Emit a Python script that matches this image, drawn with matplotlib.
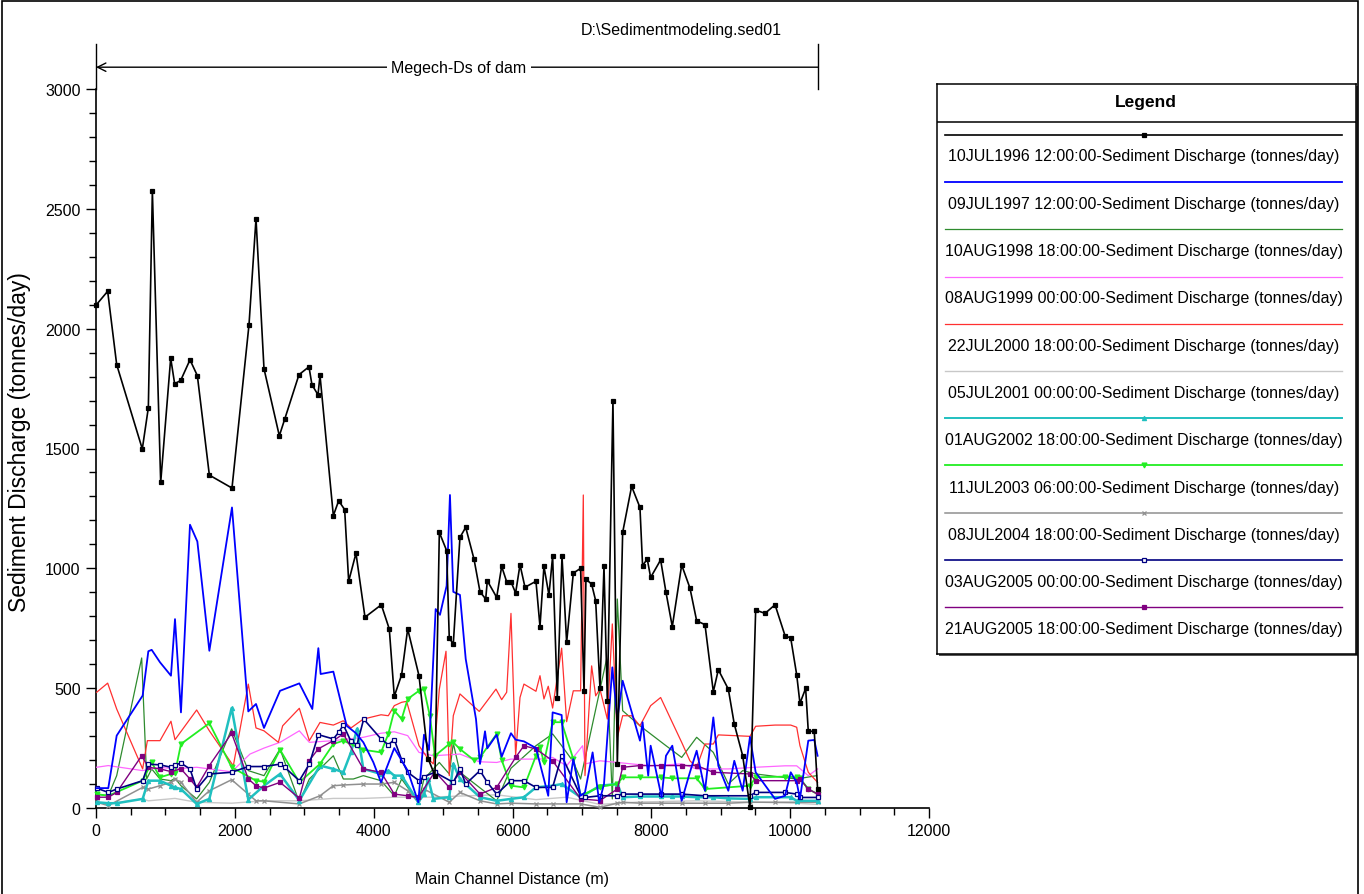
import matplotlib
matplotlib.use('Agg')
import matplotlib.pyplot as plt
from matplotlib.patches import Rectangle
from matplotlib.ticker import MultipleLocator

plt.rcParams['font.family'] = ['Liberation Sans', 'DejaVu Sans']

# sediment discharge (tonnes/day) along the main channel (m)
x_1996 = [0, 168, 298, 667, 754, 812, 932, 1076, 1133, 1220, 1354, 1460, 1633, 1959, 2204, 2305,
          2420, 2641, 2718, 2924, 3068, 3111, 3198, 3227, 3419, 3496, 3582, 3640, 3745, 3875, 4110,
          4225, 4297, 4403, 4490, 4653, 4787, 4883, 4946, 5051, 5089, 5147, 5243, 5326, 5445, 5532,
          5614, 5637, 5772, 5844, 5916, 5978, 6045, 6108, 6180, 6338, 6396, 6453, 6525, 6578, 6645,
          6713, 6780, 6876, 6981, 7030, 7058, 7140, 7198, 7260, 7318, 7366, 7447, 7510, 7587, 7716,
          7836, 7874, 7941, 7990, 8134, 8211, 8302, 8437, 8556, 8653, 8773, 8893, 8965, 9109, 9195,
          9316, 9421, 9503, 9638, 9782, 9926, 10008, 10094, 10141, 10223, 10261, 10347, 10395]
q_1996 = [2098, 2156, 1850, 1498, 1670, 2574, 1359, 1877, 1770, 1784, 1870, 1804, 1389, 1335, 2016,
          2459, 1833, 1553, 1622, 1808, 1841, 1766, 1724, 1805, 1220, 1282, 1245, 946, 1063, 796,
          848, 747, 466, 556, 747, 552, 204, 135, 1150, 1074, 709, 684, 1129, 1171, 1039, 902, 872,
          948, 879, 1008, 944, 944, 897, 1015, 921, 946, 757, 1008, 889, 1050, 459, 1050, 691, 980,
          1000, 489, 955, 934, 865, 500, 1008, 448, 1698, 183, 1150, 1342, 1254, 1011, 1039, 962,
          1035, 900, 757, 1014, 918, 781, 765, 485, 577, 496, 350, 218, 3, 826, 812, 848, 719, 709,
          556, 437, 499, 320, 320, 79]

x_1997 = [10, 177, 298, 672, 754, 802, 922, 1080, 1138, 1224, 1354, 1460, 1633, 1959, 2194, 2305,
          2420, 2651, 2929, 3116, 3203, 3236, 3419, 3611, 3741, 3851, 3995, 4106, 4297, 4490, 4643,
          4725, 4797, 4893, 4955, 5051, 5099, 5147, 5243, 5326, 5474, 5532, 5604, 5637, 5772, 5844,
          5978, 6045, 6165, 6338, 6515, 6578, 6708, 6780, 6876, 6981, 7044, 7154, 7250, 7318, 7438,
          7510, 7587, 7836, 7874, 7955, 7990, 8148, 8211, 8302, 8437, 8556, 8653, 8773, 8893, 8965,
          9109, 9195, 9316, 9421, 9503, 9782, 9926, 10008, 10094, 10141, 10261, 10347, 10395]
q_1997 = [83, 83, 302, 469, 654, 660, 608, 552, 788, 399, 1182, 1112, 656, 1254, 403, 434, 334, 489,
          520, 413, 667, 559, 569, 343, 313, 274, 191, 107, 250, 156, 24, 306, 242, 830, 806, 927,
          1306, 902, 889, 622, 371, 184, 320, 249, 306, 214, 312, 285, 278, 250, 51, 399, 388, 24,
          204, 51, 65, 232, 24, 100, 587, 371, 531, 281, 358, 135, 260, 45, 218, 260, 30, 149, 239,
          72, 378, 176, 72, 197, 72, 297, 149, 38, 51, 149, 107, 38, 281, 284, 218]

x_1998 = [10, 177, 298, 658, 730, 802, 922, 1080, 1138, 1224, 1450, 1633, 1954, 2194, 2420, 2651,
          2929, 3073, 3419, 3563, 3707, 3851, 4106, 4297, 4403, 4643, 4725, 4946, 5089, 5147, 5243,
          5772, 5978, 6338, 6578, 6708, 6876, 6981, 7356, 7438, 7510, 7587, 7836, 8211, 8437, 8653,
          8893, 9109, 9316, 9503, 10094, 10381]
q_1998 = [58, 51, 135, 626, 121, 163, 121, 114, 124, 93, 38, 107, 330, 156, 135, 246, 24, 121, 218,
          121, 121, 135, 114, 51, 121, 24, 121, 190, 142, 270, 149, 30, 166, 260, 309, 260, 193, 121,
          622, 38, 872, 406, 343, 260, 211, 295, 232, 100, 156, 142, 121, 135]

x_1999 = [10, 177, 672, 922, 1138, 1450, 1954, 2218, 2420, 2651, 2929, 3073, 3419, 3851, 4106, 4297,
          4490, 4653, 4859, 5243, 5521, 5772, 5978, 6396, 6578, 6780, 7010, 7044, 7260, 7510, 7990,
          8437, 8653, 9109, 9503, 9926, 10094, 10261, 10395]
q_1999 = [170, 177, 156, 170, 163, 170, 151, 225, 250, 274, 322, 274, 281, 295, 312, 318, 302, 232,
          218, 225, 193, 190, 204, 204, 211, 176, 260, 184, 197, 190, 176, 184, 163, 163, 170, 176,
          176, 135, 163]

x_2000 = [10, 168, 298, 672, 740, 922, 1080, 1138, 1450, 1633, 1978, 2194, 2305, 2420, 2627, 2689,
          2929, 3073, 3227, 3419, 3563, 3673, 3851, 4106, 4211, 4297, 4403, 4475, 4653, 4787, 4859,
          4946, 5042, 5089, 5147, 5243, 5521, 5762, 5844, 5916, 5978, 6045, 6108, 6165, 6338, 6396,
          6453, 6515, 6578, 6708, 6780, 6876, 6981, 7020, 7044, 7140, 7198, 7260, 7366, 7438, 7510,
          7587, 7716, 7836, 7990, 8134, 8302, 8437, 8556, 8653, 8773, 8893, 8965, 9421, 9503, 9782,
          10008, 10094, 10141, 10261, 10395]
q_2000 = [483, 521, 413, 163, 281, 281, 362, 285, 409, 322, 176, 517, 334, 322, 274, 343, 416, 281,
          357, 346, 364, 334, 371, 389, 385, 427, 441, 445, 260, 204, 184, 496, 654, 135, 385, 476,
          403, 496, 452, 483, 812, 218, 461, 517, 487, 552, 455, 508, 417, 667, 360, 489, 489, 1306,
          135, 593, 468, 496, 371, 768, 295, 385, 385, 343, 427, 461, 357, 274, 197, 170, 267, 267,
          305, 299, 341, 346, 346, 337, 260, 149, 107]

x_2001 = [10, 177, 672, 754, 1138, 1450, 1954, 2420, 2929, 3419, 3851, 4297, 4811, 5243, 5772, 6338,
          6780, 7260, 7836, 8653, 9421, 10094, 10395]
q_2001 = [24, 17, 38, 30, 40, 24, 20, 30, 30, 40, 40, 45, 45, 50, 55, 35, 45, 15, 25, 30, 25, 20, 15]

x_2002 = [10, 177, 298, 672, 754, 922, 1080, 1138, 1224, 1450, 1633, 1954, 2194, 2420, 2651, 2929,
          3227, 3419, 3563, 3673, 3760, 3851, 4106, 4211, 4297, 4403, 4643, 4725, 4787, 4859, 5089,
          5147, 5243, 5532, 5772, 5978, 6165, 6338, 6578, 6708, 6981, 7260, 7510, 7587, 7836, 8134,
          8302, 8437, 8653, 8893, 9109, 9421, 9503, 10008, 10094, 10395]
q_2002 = [24, 20, 20, 38, 114, 114, 93, 86, 79, 17, 38, 417, 35, 93, 142, 31, 177, 163, 149, 232,
          330, 163, 142, 156, 135, 135, 24, 58, 121, 38, 45, 184, 121, 45, 30, 38, 45, 86, 93, 100,
          45, 93, 100, 45, 48, 48, 48, 48, 45, 45, 40, 38, 45, 45, 30, 30]

x_2003 = [10, 177, 672, 802, 922, 1080, 1138, 1224, 1633, 1954, 2305, 2420, 2651, 2929, 3227, 3419,
          3563, 3851, 4106, 4211, 4297, 4403, 4490, 4653, 4725, 4811, 4883, 5089, 5147, 5243, 5445,
          5532, 5772, 5844, 5978, 6165, 6338, 6396, 6453, 6578, 6708, 6876, 6981, 7260, 7510, 7587,
          7836, 8134, 8302, 8653, 8773, 9421, 9503, 9926, 10094, 10141, 10261, 10395]
q_2003 = [58, 51, 114, 190, 128, 142, 145, 267, 354, 170, 114, 110, 243, 107, 184, 267, 281, 243,
          232, 309, 406, 371, 455, 489, 496, 382, 218, 267, 274, 246, 200, 211, 309, 200, 93, 86, 218,
          253, 190, 358, 358, 204, 51, 89, 100, 128, 128, 128, 124, 124, 79, 93, 128, 131, 128, 124,
          79, 58]

x_2004 = [10, 177, 672, 754, 922, 1080, 1138, 1224, 1450, 1633, 1954, 2194, 2305, 2420, 2929, 3227,
          3419, 3563, 3851, 4106, 4297, 4490, 4643, 4725, 5089, 5243, 5532, 5772, 5978, 6338, 6578,
          6981, 7260, 7510, 7587, 7836, 8134, 8437, 8773, 9109, 9421, 9782, 10094, 10395]
q_2004 = [24, 10, 86, 79, 93, 107, 121, 107, 24, 72, 118, 58, 30, 30, 17, 51, 93, 96, 100, 100, 107,
          72, 24, 79, 24, 65, 30, 17, 20, 17, 17, 17, 3, 20, 24, 20, 20, 20, 20, 20, 24, 24, 24, 24]

x_2005a = [10, 177, 298, 672, 754, 922, 1080, 1138, 1224, 1354, 1450, 1633, 1954, 2194, 2420, 2651,
           2718, 2929, 3073, 3203, 3419, 3505, 3563, 3673, 3760, 3856, 4106, 4211, 4297, 4403, 4490,
           4653, 4725, 4883, 5147, 5243, 5326, 5532, 5637, 5772, 5978, 6165, 6338, 6578, 6708, 6981,
           7044, 7260, 7510, 7587, 7836, 8134, 8437, 8773, 9421, 9503, 9926, 10094, 10141, 10395]
q_2005a = [83, 65, 79, 114, 183, 180, 170, 180, 187, 163, 79, 142, 149, 173, 173, 183, 170, 114, 183,
           306, 288, 319, 347, 278, 264, 371, 288, 264, 285, 201, 149, 114, 131, 149, 107, 163, 100,
           156, 107, 58, 114, 114, 86, 86, 218, 51, 44, 51, 51, 58, 58, 58, 58, 51, 51, 65, 65, 58,
           44, 44]

x_2005b = [10, 177, 298, 658, 754, 922, 1080, 1224, 1354, 1450, 1633, 1954, 2194, 2305, 2420, 2651,
           2929, 3073, 3203, 3419, 3563, 3851, 4106, 4297, 4490, 4643, 4883, 5089, 5243, 5532, 5772,
           6045, 6165, 6338, 6578, 6981, 7260, 7510, 7587, 7836, 8134, 8437, 8653, 8893, 9421, 9503,
           10094, 10141, 10261, 10395]
q_2005b = [45, 45, 65, 218, 170, 163, 152, 163, 121, 86, 177, 312, 121, 93, 83, 107, 41, 198, 247,
           281, 309, 163, 149, 58, 51, 44, 152, 86, 149, 58, 86, 211, 260, 246, 197, 38, 31, 79, 170,
           177, 177, 177, 177, 149, 142, 114, 114, 121, 79, 58]

tail = '-Sediment Discharge (tonnes/day)'
labels = ['10JUL1996 12:00:00', '09JUL1997 12:00:00', '10AUG1998 18:00:00', '08AUG1999 00:00:00',
          '22JUL2000 18:00:00', '05JUL2001 00:00:00', '01AUG2002 18:00:00', '11JUL2003 06:00:00',
          '08JUL2004 18:00:00', '03AUG2005 00:00:00', '21AUG2005 18:00:00']

# (x, q, color, linewidth, marker, markersize, marker face, zorder)
styles = [
    (x_1996, q_1996, 'black', 1.2, 's', 2.2, 'black', 20),
    (x_1997, q_1997, '#0000ff', 1.3, None, 0, None, 18),
    (x_1998, q_1998, '#2e8b2e', 0.9, None, 0, None, 5),
    (x_1999, q_1999, '#ff66ff', 0.9, None, 0, None, 5),
    (x_2000, q_2000, '#ff3030', 0.9, None, 0, None, 6),
    (x_2001, q_2001, '#c8c8c8', 1.0, None, 0, None, 4),
    (x_2002, q_2002, '#20c0c0', 1.8, '^', 3.0, '#20c0c0', 8),
    (x_2003, q_2003, '#22ee22', 1.3, 'v', 3.5, '#22ee22', 9),
    (x_2004, q_2004, '#909090', 1.1, 'x', 3.0, '#909090', 7),
    (x_2005a, q_2005a, '#000080', 1.2, 's', 3.2, 'white', 10),
    (x_2005b, q_2005b, '#800080', 1.0, 's', 2.2, '#800080', 9),
]

fig = plt.figure(figsize=(13.64, 8.95), dpi=100)
W, H = 1364.0, 895.0

ax = fig.add_axes([96 / W, 1 - 809 / H, 833 / W, 719 / H])
for x, q, c, lw, mk, ms, mfc, z in styles:
    ax.plot(x, q, color=c, lw=lw, marker=mk, ms=ms, mfc=mfc, mec=c, mew=0.9,
            zorder=z, clip_on=False)

ax.set_xlim(0, 12000)
ax.set_ylim(0, 3000)
for s in ['top', 'right']:
    ax.spines[s].set_visible(False)
for s in ['left', 'bottom']:
    ax.spines[s].set_linewidth(1.2)
ax.xaxis.set_major_locator(MultipleLocator(2000))
ax.xaxis.set_minor_locator(MultipleLocator(500))
ax.yaxis.set_major_locator(MultipleLocator(500))
ax.yaxis.set_minor_locator(MultipleLocator(100))
ax.tick_params(which='major', direction='out', length=7, width=1, labelsize=11.5, pad=4)
ax.tick_params(which='minor', direction='out', length=5, width=1)

# reach marker above the plot
ax.plot([0, 0], [3000, 3187], color='black', lw=1, clip_on=False)
ax.plot([10400, 10400], [3000, 3187], color='black', lw=1, clip_on=False)
ax.annotate('', xy=(0, 3091), xytext=(10400, 3091), annotation_clip=False,
            arrowprops=dict(arrowstyle='->,head_length=0.6,head_width=0.3', lw=1, color='black',
                            shrinkA=0, shrinkB=0))
ax.text(5230, 3091, 'Megech-Ds of dam', ha='center', va='center', fontsize=11.5, clip_on=False,
        bbox=dict(facecolor='white', edgecolor='none', pad=3))

fig.text(681 / W, 1 - 30 / H, 'D:\\Sedimentmodeling.sed01', ha='center', va='center', fontsize=11.5)
fig.text(512 / W, 1 - 880 / H, 'Main Channel Distance (m)', ha='center', va='center', fontsize=11.5)
fig.text(20 / W, 1 - 442 / H, 'Sediment Discharge (tonnes/day)', ha='center', va='center',
         rotation=90, fontsize=16.5)

# outer frame
fig.patches.append(Rectangle((2 / W, -0.01), 1356 / W, 1 - 2 / H + 0.01, transform=fig.transFigure,
                             fill=False, edgecolor='black', lw=1.2))

# legend panel with a thin drop shadow
fig.patches.append(Rectangle((939 / W, 1 - 657 / H), 419 / W, 570 / H, transform=fig.transFigure,
                             facecolor='#555555', edgecolor='none', zorder=0))
lax = fig.add_axes([937 / W, 1 - 655 / H, 419 / W, 570 / H])
lax.set_zorder(3)
lax.set_xlim(0, 419)
lax.set_ylim(570, 0)
lax.set_xticks([])
lax.set_yticks([])
for s in lax.spines.values():
    s.set_linewidth(1.1)
lax.axhline(38, color='black', lw=1.1)
lax.text(209, 18, 'Legend', ha='center', va='center', fontsize=12.5, fontweight='bold')
for i, (lab, st) in enumerate(zip(labels, styles)):
    ly = 51 + i * 47.2
    ty = 72 + i * 47.3
    c, lw, mk, ms, mfc = st[2], st[3], st[4], st[5], st[6]
    lax.plot([8, 405], [ly, ly], color=c, lw=min(lw, 1.4))
    if mk:
        lax.plot([207], [ly], marker=mk, ms=ms, color=c, mfc=mfc, mec=c, mew=0.9)
    lax.text(207, ty, lab + tail, ha='center', va='center', fontsize=11.5)

fig.savefig('out.png', dpi=100)
